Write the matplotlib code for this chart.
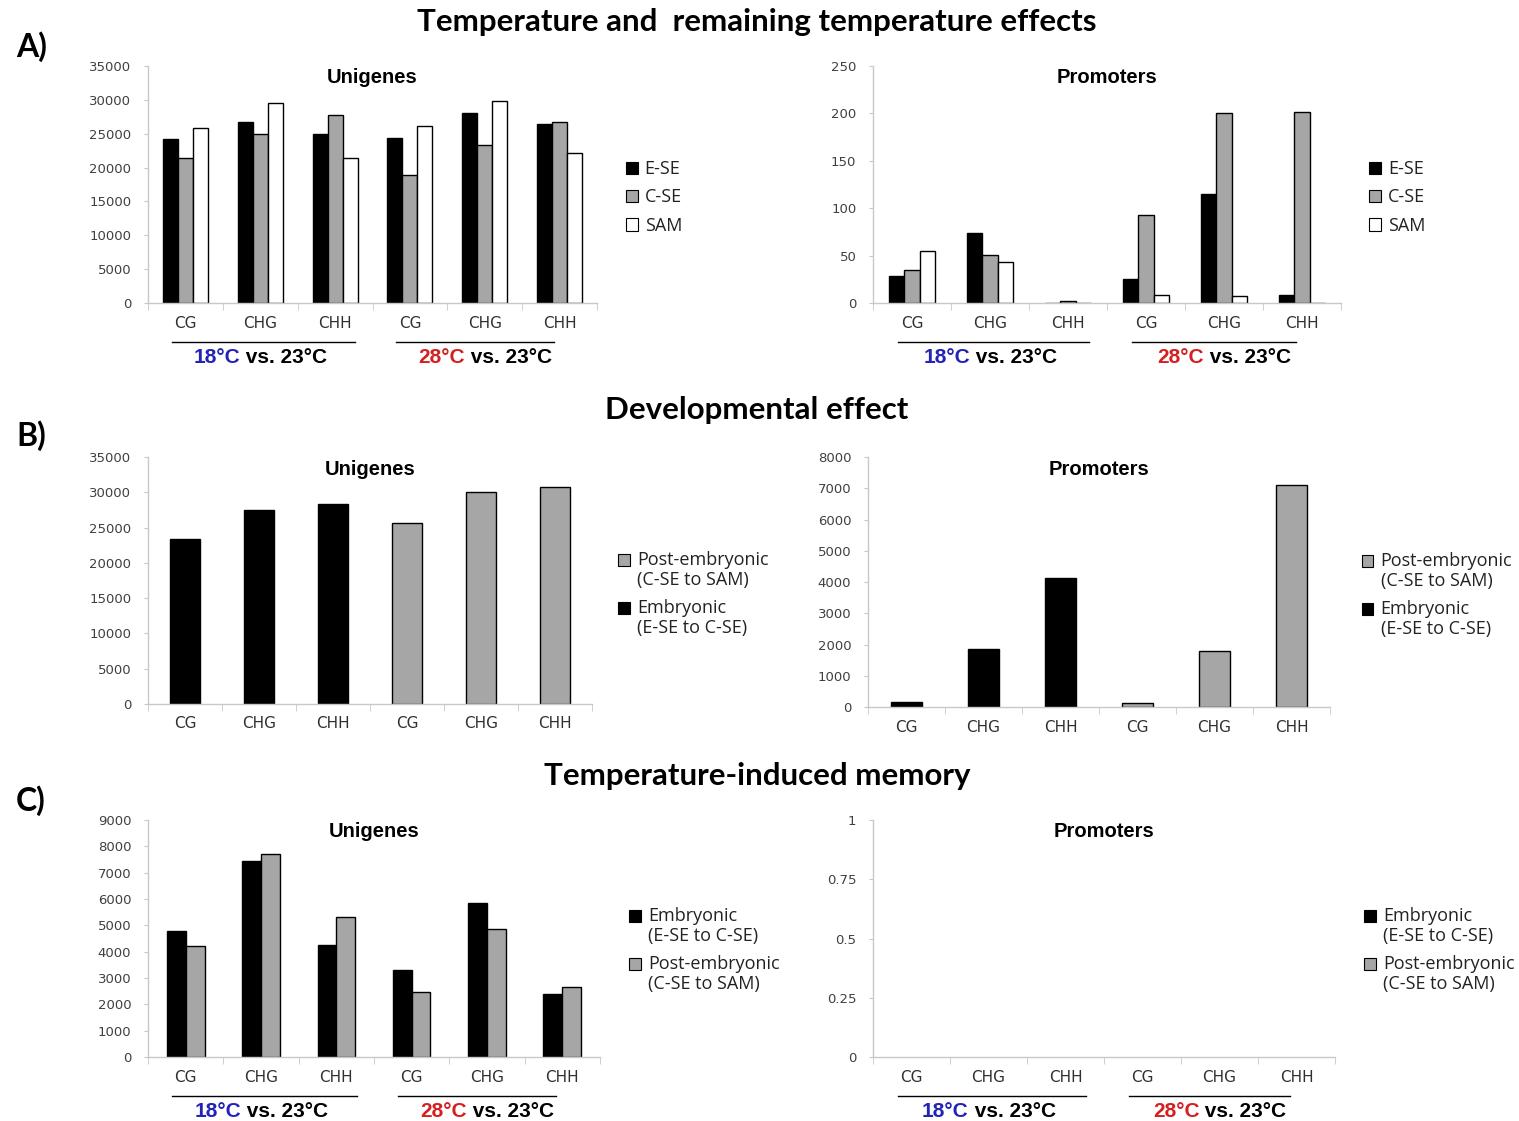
import matplotlib
matplotlib.use('Agg')
import matplotlib.pyplot as plt
import matplotlib.patches as mpatches
from matplotlib.legend_handler import HandlerPatch
import numpy as np

# ---- data ----
cats = ['CG', 'CHG', 'CHH', 'CG', 'CHG', 'CHH']

# A) temperature effects
a_uni_ese = [24200, 26700, 25000, 24300, 28000, 26500]
a_uni_cse = [21400, 24900, 27700, 18900, 23400, 26800]
a_uni_sam = [25900, 29600, 21400, 26100, 29900, 22200]
a_pro_ese = [28, 74, 0, 25, 115, 8]
a_pro_cse = [35, 51, 2, 93, 200, 201]
a_pro_sam = [55, 43, 0, 8, 7, 0]

# B) developmental effect (first three embryonic, last three post-embryonic)
b_uni = [23400, 27500, 28300, 25700, 30100, 30800]
b_pro = [150, 1850, 4120, 130, 1800, 7100]
b_is_post = [False, False, False, True, True, True]

# C) temperature-induced memory
c_uni_emb = [4780, 7450, 4270, 3300, 5830, 2380]
c_uni_post = [4220, 7700, 5300, 2470, 4860, 2660]

BLACK = '#000000'
GRAY = '#a6a6a6'
WHITE = '#ffffff'
BLUE = '#2323b8'
RED = '#d42020'

W, H = 1519, 1121
fig = plt.figure(figsize=(W / 100, H / 100), dpi=100)


def add_ax(x0, x1, ytop, ybot):
    return fig.add_axes([x0 / W, 1 - ybot / H, (x1 - x0) / W, (ybot - ytop) / H])


class TopPatch(HandlerPatch):
    # put the swatch next to the first line of a two-line label
    def create_artists(self, legend, orig_handle, xdescent, ydescent,
                       width, height, fontsize, trans):
        p = mpatches.Rectangle((-xdescent, -ydescent + 0.6 * fontsize), width, height,
                               facecolor=orig_handle.get_facecolor(),
                               edgecolor=orig_handle.get_edgecolor(),
                               lw=orig_handle.get_linewidth())
        p.set_transform(trans)
        return [p]


def style(ax, ymax, yticks, ylabels, title):
    ax.set_xlim(-0.5, 5.5)
    ax.set_ylim(0, ymax)
    ax.set_yticks(yticks)
    ax.set_yticklabels(ylabels, fontsize=9.5, color='#404040', family='DejaVu Sans')
    ax.set_xticks(range(6))
    ax.set_xticklabels(cats, fontsize=11, color='#303030', family='DejaVu Sans')
    ax.set_xticks(np.arange(-0.5, 6, 1), minor=True)
    ax.tick_params(axis='x', which='major', length=0, pad=9)
    ax.tick_params(axis='x', which='minor', length=5, color='#c8c8c8')
    ax.tick_params(axis='y', length=3, color='#c8c8c8', pad=9)
    for s in ['top', 'right']:
        ax.spines[s].set_visible(False)
    for s in ['left', 'bottom']:
        ax.spines[s].set_color('#c8c8c8')
        ax.spines[s].set_linewidth(1)
    ax.text(0.5, 0.95, title, transform=ax.transAxes, ha='center', va='center',
            fontsize=14.5, fontweight='bold', family='Liberation Sans')


def group_labels(ax):
    tr = ax.get_xaxis_transform()
    for x0, x1, center, temp, col in [(-0.18, 2.27, 1, '18°C', BLUE),
                                      (2.82, 4.92, 4, '28°C', RED)]:
        ax.plot([x0, x1], [-0.165, -0.165], transform=tr, color='black', lw=1, clip_on=False)
        t = ax.annotate(temp, xy=(center, -0.228), xycoords=tr, xytext=(-48, 0),
                        textcoords='offset points', ha='left', va='center',
                        color=col, fontsize=15, fontweight='bold', family='Liberation Sans',
                        annotation_clip=False)
        ax.annotate(' vs. 23°C', xy=(1, 0), xycoords=t, ha='left', va='bottom',
                    color='black', fontsize=15, fontweight='bold', family='Liberation Sans')


def legend(ax, handles, labels, x, y, two_line=False):
    kw = dict(loc='upper left', bbox_to_anchor=(x, y), frameon=False,
              borderpad=0, handlelength=0.65, handleheight=0.65, handletextpad=0.4,
              prop={'family': 'Open Sans', 'size': 13})
    if two_line:
        kw['handler_map'] = {mpatches.Rectangle: TopPatch()}
        kw['labelspacing'] = 0.55
    else:
        kw['labelspacing'] = 0.58
    leg = ax.legend(handles, labels, **kw)
    for t in leg.get_texts():
        t.set_color('#222222')
        t.set_linespacing(1.15)


def rect(color):
    return mpatches.Rectangle((0, 0), 1, 1, facecolor=color, edgecolor='black', lw=0.8)


x = np.arange(6)

# ---- A left ----
ax = add_ax(148, 597, 66, 303)
w = 0.2
for i, (vals, col) in enumerate([(a_uni_ese, BLACK), (a_uni_cse, GRAY), (a_uni_sam, WHITE)]):
    ax.bar(x + (i - 1) * w, vals, w, color=col, edgecolor='black', linewidth=1)
style(ax, 35000, range(0, 35001, 5000), [str(v) for v in range(0, 35001, 5000)], 'Unigenes')
group_labels(ax)
legend(ax, [rect(BLACK), rect(GRAY), rect(WHITE)], ['E-SE', 'C-SE', 'SAM'], 1.044, 0.642)

# ---- A right ----
ax = add_ax(873, 1341, 66, 303)
w = 0.195
for i, (vals, col) in enumerate([(a_pro_ese, BLACK), (a_pro_cse, GRAY), (a_pro_sam, WHITE)]):
    ax.bar(x + (i - 1) * w, vals, w, color=col, edgecolor='black', linewidth=1)
style(ax, 250, range(0, 251, 50), [str(v) for v in range(0, 251, 50)], 'Promoters')
group_labels(ax)
legend(ax, [rect(BLACK), rect(GRAY), rect(WHITE)], ['E-SE', 'C-SE', 'SAM'], 1.041, 0.642)

# ---- B left ----
ax = add_ax(148, 592, 457, 704)
cols = [GRAY if p else BLACK for p in b_is_post]
ax.bar(x, b_uni, 0.4, color=cols, edgecolor='black', linewidth=1)
style(ax, 35000, range(0, 35001, 5000), [str(v) for v in range(0, 35001, 5000)], 'Unigenes')
legend(ax, [rect(GRAY), rect(BLACK)],
       ['Post-embryonic\n(C-SE to SAM)', 'Embryonic\n(E-SE to C-SE)'], 1.039, 0.656, two_line=True)

# ---- B right ----
ax = add_ax(868, 1330, 457, 707)
ax.bar(x, b_pro, 0.4, color=cols, edgecolor='black', linewidth=1)
style(ax, 8000, range(0, 8001, 1000), [str(v) for v in range(0, 8001, 1000)], 'Promoters')
legend(ax, [rect(GRAY), rect(BLACK)],
       ['Post-embryonic\n(C-SE to SAM)', 'Embryonic\n(E-SE to C-SE)'], 1.049, 0.656, two_line=True)

# ---- C left ----
ax = add_ax(148, 600, 820, 1057)
w = 0.25
ax.bar(x - w / 2, c_uni_emb, w, color=BLACK, edgecolor='black', linewidth=1)
ax.bar(x + w / 2, c_uni_post, w, color=GRAY, edgecolor='black', linewidth=1)
style(ax, 9000, range(0, 9001, 1000), [str(v) for v in range(0, 9001, 1000)], 'Unigenes')
group_labels(ax)
legend(ax, [rect(BLACK), rect(GRAY)],
       ['Embryonic\n(E-SE to C-SE)', 'Post-embryonic\n(C-SE to SAM)'], 1.045, 0.67, two_line=True)

# ---- C right (no data) ----
ax = add_ax(873, 1335, 820, 1057)
style(ax, 1, [0, 0.25, 0.5, 0.75, 1], ['0', '0.25', '0.5', '0.75', '1'], 'Promoters')
group_labels(ax)
legend(ax, [rect(BLACK), rect(GRAY)],
       ['Embryonic\n(E-SE to C-SE)', 'Post-embryonic\n(C-SE to SAM)'], 1.043, 0.67, two_line=True)

# ---- section titles ----
for y, title, letter, ly in [(22, 'Temperature and  remaining temperature effects', 'A)', 47),
                             (410, 'Developmental effect', 'B)', 436),
                             (776, 'Temperature-induced memory', 'C)', 801)]:
    fig.text(757 / W, 1 - y / H, title, ha='center', va='center',
             fontsize=22.5, fontweight='bold', family='Lato')
    fig.text(16 / W, 1 - ly / H, letter, ha='left', va='center',
             fontsize=23, fontweight='bold', family='Lato')

fig.savefig('out.png', dpi=100, facecolor='white')
